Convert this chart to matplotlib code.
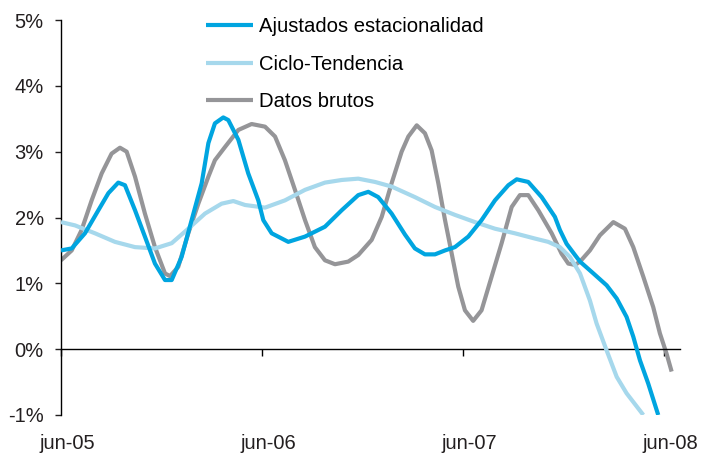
import numpy as np
import matplotlib.pyplot as plt
from matplotlib.transforms import ScaledTranslation

plt.rcParams['font.family'] = ['Liberation Sans', 'DejaVu Sans']

# months counted from jun-05
ajust_x = [0, 0.64, 1.43, 2.23, 2.83, 3.42, 3.82, 4.42, 5.01, 5.61, 6.21, 6.61, 7.20, 7.80,
           8.40, 8.80, 9.19, 9.69, 9.99, 10.59, 11.18, 11.78, 12.08, 12.58, 13.57, 14.57,
           15.76, 16.76, 17.75, 18.35, 18.94, 19.74, 20.54, 21.13, 21.73, 22.33, 22.93,
           23.52, 24.32, 25.11, 25.91, 26.71, 27.21, 27.90, 28.70, 29.49, 29.79, 30.19,
           30.69, 30.99, 31.79, 32.58, 33.18, 33.77, 34.17, 34.57, 35.06, 35.66]
ajust_y = [1.50, 1.53, 1.76, 2.11, 2.37, 2.53, 2.49, 2.11, 1.71, 1.30, 1.05, 1.05, 1.40, 1.96,
           2.52, 3.13, 3.43, 3.52, 3.48, 3.18, 2.67, 2.26, 1.96, 1.76, 1.63, 1.71,
           1.86, 2.11, 2.34, 2.39, 2.31, 2.06, 1.74, 1.53, 1.44, 1.44, 1.50,
           1.55, 1.71, 1.96, 2.26, 2.49, 2.58, 2.54, 2.31, 2.01, 1.81, 1.60,
           1.43, 1.33, 1.15, 0.97, 0.77, 0.49, 0.19, -0.17, -0.52, -1.00]

ciclo_x = [0, 0.84, 2.03, 3.22, 4.42, 5.61, 6.61, 7.60, 8.60, 9.59, 10.29, 10.99, 12.18,
           13.37, 14.57, 15.76, 16.76, 17.75, 18.75, 19.74, 21.13, 22.33, 23.52, 24.72,
           25.91, 27.10, 28.30, 29.09, 29.79, 30.39, 30.99, 31.58, 31.98, 32.58, 33.18,
           33.77, 34.77]
ciclo_y = [1.93, 1.88, 1.76, 1.63, 1.55, 1.53, 1.61, 1.83, 2.06, 2.21, 2.25, 2.19, 2.15,
           2.26, 2.42, 2.53, 2.57, 2.59, 2.54, 2.47, 2.31, 2.16, 2.04, 1.93,
           1.83, 1.76, 1.68, 1.63, 1.55, 1.40, 1.15, 0.74, 0.39, -0.02, -0.42,
           -0.67, -1.00]

brutos_x = [0, 0.64, 1.23, 1.83, 2.43, 3.02, 3.52, 3.92, 4.42, 5.01, 5.61, 6.21, 6.51, 7.00,
            7.60, 8.20, 8.80, 9.19, 9.79, 10.59, 11.38, 12.18, 12.78, 13.37, 13.97, 14.57,
            15.16, 15.76, 16.36, 17.15, 17.75, 18.55, 19.15, 19.74, 20.34, 20.74, 21.24,
            21.73, 22.13, 22.53, 22.93, 23.33, 23.72, 24.12, 24.61, 25.11, 25.71, 26.31,
            26.91, 27.40, 27.90, 28.50, 29.30, 29.89, 30.29, 30.69, 30.99, 31.58, 32.18,
            32.98, 33.67, 34.17, 34.77, 35.36, 35.76, 36.16, 36.46]
brutos_y = [1.35, 1.50, 1.81, 2.26, 2.67, 2.97, 3.06, 3.00, 2.62, 2.06, 1.55, 1.15, 1.11, 1.25,
            1.76, 2.21, 2.62, 2.87, 3.07, 3.33, 3.42, 3.38, 3.23, 2.87, 2.42, 1.96,
            1.55, 1.35, 1.29, 1.33, 1.43, 1.66, 2.01, 2.52, 3.00, 3.23, 3.40,
            3.28, 3.02, 2.52, 1.96, 1.45, 0.95, 0.59, 0.43, 0.59, 1.10, 1.61,
            2.16, 2.34, 2.34, 2.11, 1.76, 1.45, 1.30, 1.28, 1.33, 1.50, 1.73,
            1.93, 1.83, 1.55, 1.10, 0.64, 0.24, -0.07, -0.34]

tick_pos = [0, 12, 24, 36]
tick_labels = ["jun-05", "jun-06", "jun-07", "jun-08"]

fig = plt.figure(figsize=(7.01, 4.58), dpi=100)
ax = fig.add_axes([61/701, 43/458, 619/701, 395/458])

style = dict(lw=3, solid_joinstyle='round', solid_capstyle='butt')
ax.plot(ajust_x, ajust_y, color='#00a5e0', label="Ajustados estacionalidad", zorder=4, **style)
ax.plot(ciclo_x, ciclo_y, color='#a6d8ec', label="Ciclo-Tendencia", zorder=3, **style)
ax.plot(brutos_x, brutos_y, color='#959598', label="Datos brutos", zorder=2, **style)

ax.set_xlim(0, 36.96)
ax.set_ylim(-1, 5)
ax.spines['top'].set_visible(False)
ax.spines['right'].set_visible(False)
ax.spines['bottom'].set_position(('data', 0))
ax.spines['bottom'].set_linewidth(1)
ax.spines['left'].set_linewidth(1)

ax.set_yticks(range(-1, 6))
ax.set_yticklabels([f"{v}%" for v in range(-1, 6)])
ax.tick_params(axis='y', direction='out', length=4.5, width=1, pad=8, labelsize=14.5, colors='#231f20')
ax.set_xticks(tick_pos)
ax.tick_params(axis='x', direction='out', length=5, width=1, labelbottom=False)

sec = ax.secondary_xaxis('bottom')
sec.set_xticks(tick_pos)
sec.set_xticklabels(tick_labels)
sec.spines['bottom'].set_visible(False)
sec.tick_params(length=0, pad=14, labelsize=14.5, colors='#231f20')
off = ScaledTranslation(6/100, 0, fig.dpi_scale_trans)
for lab in sec.get_xticklabels():
    lab.set_transform(lab.get_transform() + off)

ax.legend(loc='upper left', bbox_to_anchor=(206/701, 1 - 17/458), bbox_transform=fig.transFigure,
          frameon=False, fontsize=14.6, handlelength=2.3, handletextpad=0.3,
          labelspacing=0.92, borderpad=0, borderaxespad=0)

plt.savefig("out.png", dpi=100)
